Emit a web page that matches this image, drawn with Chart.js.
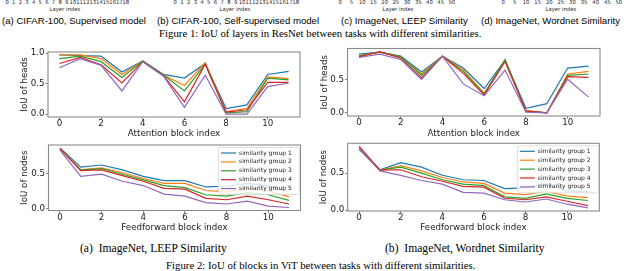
<!DOCTYPE html>
<html>
<head>
<meta charset="utf-8">
<title>IoU of blocks in ViT</title>
<script src="https://cdn.jsdelivr.net/npm/chart.js@4.4.1/dist/chart.umd.min.js"></script>
<style>
  html, body { margin: 0; padding: 0; background: #fff; }
  body { width: 640px; height: 271px; position: relative; overflow: hidden; }
  .txt { position: absolute; left: 0; top: 0; white-space: nowrap; color: #000; line-height: 1; }
  .sans { font-family: 'Liberation Sans', Arial, sans-serif; }
  .serif { font-family: 'Liberation Serif', 'Times New Roman', serif; }
  .mpl { font-family: 'DejaVu Sans', sans-serif; color: #222; }
  .plot { position: absolute; }
</style>
</head>
<body>

<div class="plot" style="left:0px;top:42px"><canvas id="headsLeepChart" width="312" height="98"></canvas></div>
<div class="plot" style="left:312px;top:40px"><canvas id="headsWordnetChart" width="300" height="100"></canvas></div>
<div class="plot" style="left:0px;top:138px"><canvas id="nodesLeepChart" width="312" height="96"></canvas></div>
<div class="plot" style="left:312px;top:136px"><canvas id="nodesWordnetChart" width="300" height="98"></canvas></div>

<script>
// ---- data ----
var blockIndex = [0, 1, 2, 3, 4, 5, 6, 7, 8, 9, 10, 11];
var xTickValues = [0, 2, 4, 6, 8, 10];
var yTickValues = [0, 0.5, 1.0];
var groupLabels = ['similarity group 1', 'similarity group 2', 'similarity group 3', 'similarity group 4', 'similarity group 5'];
var groupColors = ['#1f77b4', '#ff7f0e', '#2ca02c', '#d62728', '#9467bd'];

// IoU of heads, ImageNet LEEP (one row per similarity group)
var headsLeep = [
  [0.97, 0.96, 0.95, 0.69, 0.87, 0.65, 0.59, 0.83, 0.09, 0.15, 0.65, 0.70],
  [0.97, 0.97, 0.91, 0.65, 0.87, 0.64, 0.47, 0.84, 0.04, 0.09, 0.61, 0.58],
  [0.91, 0.95, 0.86, 0.60, 0.87, 0.64, 0.38, 0.82, 0.02, 0.04, 0.59, 0.56],
  [0.83, 0.93, 0.81, 0.51, 0.86, 0.63, 0.20, 0.82, 0.03, 0.07, 0.52, 0.52],
  [0.76, 0.91, 0.80, 0.38, 0.86, 0.62, 0.11, 0.64, 0.00, 0.00, 0.45, 0.51]
];
// IoU of heads, ImageNet Wordnet
var headsWordnet = [
  [0.89, 0.92, 0.86, 0.62, 0.86, 0.68, 0.37, 0.80, 0.07, 0.14, 0.68, 0.71],
  [0.87, 0.92, 0.85, 0.59, 0.86, 0.65, 0.30, 0.79, 0.03, 0.00, 0.59, 0.63],
  [0.86, 0.92, 0.85, 0.57, 0.86, 0.63, 0.285, 0.81, 0.03, 0.00, 0.57, 0.59],
  [0.85, 0.93, 0.83, 0.53, 0.86, 0.60, 0.27, 0.78, 0.03, 0.00, 0.55, 0.54],
  [0.84, 0.89, 0.81, 0.51, 0.86, 0.44, 0.26, 0.65, 0.01, 0.00, 0.51, 0.24]
];
// IoU of nodes, ImageNet LEEP
var nodesLeep = [
  [0.86, 0.59, 0.62, 0.55, 0.46, 0.40, 0.40, 0.31, 0.32, 0.36, 0.33, 0.25],
  [0.85, 0.55, 0.58, 0.51, 0.43, 0.36, 0.36, 0.26, 0.24, 0.29, 0.26, 0.17],
  [0.85, 0.55, 0.57, 0.49, 0.41, 0.33, 0.30, 0.20, 0.18, 0.23, 0.20, 0.12],
  [0.85, 0.54, 0.55, 0.47, 0.39, 0.29, 0.28, 0.15, 0.13, 0.18, 0.13, 0.07],
  [0.83, 0.46, 0.49, 0.39, 0.33, 0.21, 0.18, 0.09, 0.07, 0.11, 0.04, 0.02]
];
// IoU of nodes, ImageNet Wordnet
var nodesWordnet = [
  [0.82, 0.545, 0.64, 0.58, 0.47, 0.41, 0.40, 0.29, 0.30, 0.355, 0.26, 0.25],
  [0.85, 0.54, 0.60, 0.53, 0.44, 0.38, 0.36, 0.23, 0.21, 0.255, 0.19, 0.17],
  [0.83, 0.54, 0.58, 0.50, 0.41, 0.35, 0.33, 0.18, 0.16, 0.22, 0.16, 0.13],
  [0.86, 0.54, 0.545, 0.45, 0.39, 0.32, 0.31, 0.16, 0.14, 0.18, 0.12, 0.06],
  [0.83, 0.53, 0.47, 0.40, 0.35, 0.24, 0.23, 0.14, 0.11, 0.15, 0.08, 0.03]
];

// tick labels left over from Figure 1 (cut off at the top)
var layerTicksCifar = ['0','1','2','3','4','5','6','7','8','9','10','11','12','13','14','15','16','17','18'];
var layerTicksImagenet = ['0','5','10','15','20','25','30','35','40','45','50'];

// ---- text ----
// x = centre, or left edge when alignLeft is set
function addText(str, cls, size, x, cy, alignLeft) {
  var el = document.createElement('div');
  el.className = 'txt ' + cls;
  el.textContent = str;
  el.style.fontSize = size + 'px';
  document.body.appendChild(el);
  var left = alignLeft ? x : x - el.offsetWidth / 2;
  el.style.left = left + 'px';
  el.style.top = (cy - size * 0.5) + 'px';
}
function tickRow(labels, x0, x1, cy) {
  var step = (x1 - x0) / (labels.length - 1);
  labels.forEach(function (t, i) { addText(t, 'mpl', 5.3, x0 + i * step, cy); });
}

tickRow(layerTicksCifar, 7, 126, 3);
tickRow(layerTicksCifar, 175, 296, 3);
tickRow(layerTicksImagenet, 340, 452, 3);
tickRow(layerTicksImagenet, 503, 619, 3);
addText('Layer index', 'mpl', 5.3, 65, 9.3);
addText('Layer index', 'mpl', 5.3, 235, 9.3);
addText('Layer index', 'mpl', 5.3, 398, 9.3);
addText('Layer index', 'mpl', 5.3, 561, 9.3);

addText('(a) CIFAR-100, Supervised model', 'sans', 9.6, 2, 20.5, true);
addText('(b) CIFAR-100, Self-supervised model', 'sans', 9.6, 157, 20.5, true);
addText('(c) ImageNet, LEEP Similarity', 'sans', 9.6, 341, 20.5, true);
addText('(d) ImageNet, Wordnet Similarity', 'sans', 9.6, 481, 20.5, true);
addText('Figure 1: IoU of layers in ResNet between tasks with different similarities.', 'serif', 10.8, 320, 33);

addText('(a)\u00a0\u00a0ImageNet, LEEP Similarity', 'serif', 11.6, 153.5, 249);
addText('(b)\u00a0\u00a0ImageNet, Wordnet Similarity', 'serif', 11.6, 465, 249);
addText('Figure 2: IoU of blocks in ViT between tasks with different similarities.', 'serif', 10.8, 320.5, 265);

// ---- charts ----
var frameBox = {
  id: 'frameBox',
  afterDatasetsDraw: function (chart) {
    var a = chart.chartArea, ctx = chart.ctx;
    ctx.save();
    ctx.strokeStyle = '#8a8a8a';
    ctx.lineWidth = 1.1;
    ctx.strokeRect(a.left, a.top, a.right - a.left, a.bottom - a.top);
    ctx.restore();
  }
};

var groupLegend = {
  id: 'groupLegend',
  afterDatasetsDraw: function (chart, args, opts) {
    if (!opts.show) return;
    var a = chart.chartArea, ctx = chart.ctx;
    var sets = chart.data.datasets;
    var rowH = 8.9, w = 81, h = 47;
    var x = a.right - w - 1, y = a.top + 2.5;
    ctx.save();
    ctx.fillStyle = 'rgba(255,255,255,0.8)';
    ctx.strokeStyle = '#d6d6d6';
    ctx.lineWidth = 0.8;
    ctx.beginPath();
    ctx.roundRect(x, y, w, h, 2);
    ctx.fill();
    ctx.stroke();
    ctx.font = '6px "DejaVu Sans"';
    ctx.textBaseline = 'middle';
    sets.forEach(function (ds, i) {
      var cy = y + 5.5 + i * rowH;
      ctx.strokeStyle = ds.borderColor;
      ctx.lineWidth = 1.2;
      ctx.beginPath();
      ctx.moveTo(x + 2.5, cy);
      ctx.lineTo(x + 17.5, cy);
      ctx.stroke();
      ctx.fillStyle = '#222';
      ctx.fillText(ds.label, x + 20.5, cy);
    });
    ctx.restore();
  }
};

var axisFont = { family: 'DejaVu Sans', size: 8.7, lineHeight: 1.2 };
var tickFont = { family: 'DejaVu Sans', size: 8.7, lineHeight: 1 };
var tickGrid = { display: true, drawOnChartArea: false, drawTicks: true, tickLength: 2.5, tickColor: '#666', tickWidth: 0.8 };

function drawPanel(canvasId, series, yTitle, xTitle, box, withLegend) {
  var datasets = series.map(function (vals, i) {
    return {
      label: groupLabels[i],
      data: vals.map(function (v, j) { return { x: blockIndex[j], y: v }; }),
      borderColor: groupColors[i],
      backgroundColor: groupColors[i],
      borderWidth: 1.2,
      pointRadius: 0,
      tension: 0,
      fill: false,
      order: series.length - i
    };
  });
  var all = [].concat.apply([], series);
  var lo = Math.min.apply(null, all), hi = Math.max.apply(null, all);
  var yPad = (hi - lo) * 0.05;
  var xLo = blockIndex[0], xHi = blockIndex[blockIndex.length - 1];
  var xPad = (xHi - xLo) * 0.05;

  new Chart(document.getElementById(canvasId), {
    type: 'line',
    data: { datasets: datasets },
    plugins: [frameBox, groupLegend],
    options: {
      responsive: false,
      animation: false,
      layout: { padding: { top: box.top, right: box.right, left: 0, bottom: 0 } },
      plugins: {
        legend: { display: false },
        tooltip: { enabled: false },
        groupLegend: { show: withLegend }
      },
      scales: {
        x: {
          type: 'linear',
          min: xLo - xPad,
          max: xHi + xPad,
          afterBuildTicks: function (s) { s.ticks = xTickValues.map(function (v) { return { value: v }; }); },
          afterFit: function (s) { s.height = box.xh; },
          grid: tickGrid,
          border: { display: false },
          ticks: { color: '#222', font: tickFont, padding: 0, maxRotation: 0, autoSkip: false },
          title: { display: true, text: xTitle, color: '#222', font: axisFont, padding: { top: 0, bottom: 0.8 } }
        },
        y: {
          min: lo - yPad,
          max: hi + yPad,
          afterBuildTicks: function (s) {
            s.ticks = yTickValues.filter(function (v) { return v >= s.min && v <= s.max; })
              .map(function (v) { return { value: v }; });
          },
          afterFit: function (s) { s.width = box.yw; },
          grid: tickGrid,
          border: { display: false },
          ticks: {
            color: '#222', font: tickFont, padding: 1,
            callback: function (v) { return Number(v).toFixed(1); }
          },
          title: { display: true, text: yTitle, color: '#222', font: axisFont, padding: { top: box.yt, bottom: 0 } }
        }
      }
    }
  });
}

drawPanel('headsLeepChart', headsLeep, 'IoU of heads', 'Attention block index',
  { top: 10, right: 12, xh: 23, yw: 48, yt: 19.8 }, false);
drawPanel('headsWordnetChart', headsWordnet, 'IoU of heads', 'Attention block index',
  { top: 8.5, right: 12, xh: 24, yw: 35.5, yt: 7.8 }, false);
drawPanel('nodesLeepChart', nodesLeep, 'IoU of nodes', 'Feedforward block index',
  { top: 7, right: 11.5, xh: 23.5, yw: 48.5, yt: 19.8 }, true);
drawPanel('nodesWordnetChart', nodesWordnet, 'IoU of nodes', 'Feedforward block index',
  { top: 7.3, right: 12.7, xh: 23, yw: 35.7, yt: 6.8 }, true);
</script>
</body>
</html>
